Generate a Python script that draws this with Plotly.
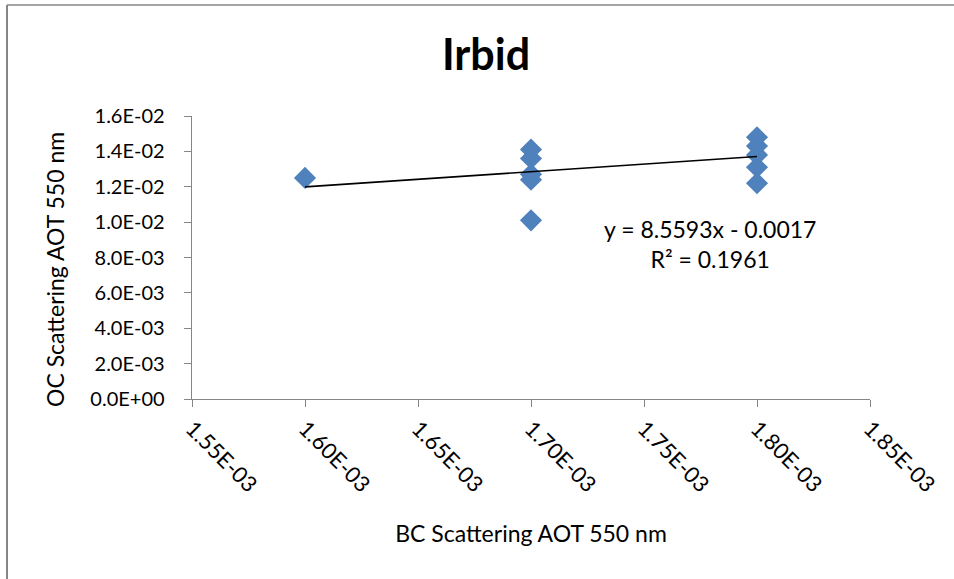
import plotly.graph_objects as go
import numpy as np

# data
bc_x = [1.60e-3, 1.70e-3, 1.70e-3, 1.70e-3, 1.70e-3, 1.70e-3,
        1.80e-3, 1.80e-3, 1.80e-3, 1.80e-3, 1.80e-3]
oc_y = [0.0125, 0.0141, 0.0136, 0.0127, 0.0124, 0.0101,
        0.0148, 0.0143, 0.0138, 0.0131, 0.0122]
trend_slope = 8.5593
trend_intercept = -0.0017
trend_text = "y = 8.5593x - 0.0017<br>R² = 0.1961"

y_ticks = [0.0, 0.002, 0.004, 0.006, 0.008, 0.010, 0.012, 0.014, 0.016]
y_ticklabels = ["0.0E+00", "2.0E-03", "4.0E-03", "6.0E-03", "8.0E-03",
                "1.0E-02", "1.2E-02", "1.4E-02", "1.6E-02"]
x_ticks = [1.55e-3, 1.60e-3, 1.65e-3, 1.70e-3, 1.75e-3, 1.80e-3, 1.85e-3]
x_ticklabels = ["1.55E-03", "1.60E-03", "1.65E-03", "1.70E-03",
                "1.75E-03", "1.80E-03", "1.85E-03"]

FONT = "Lato, 'Open Sans', sans-serif"
AXC = "#868686"
PAD = "\u00a0\u00a0\u00a0"

fig = go.Figure()
fig.add_trace(go.Scatter(
    x=bc_x, y=oc_y, mode="markers",
    marker=dict(symbol="diamond", size=17, color="#4F81BD"),
    showlegend=False, hoverinfo="x+y"))

tx = np.array([min(bc_x), max(bc_x)])
fig.add_trace(go.Scatter(
    x=tx, y=trend_slope * tx + trend_intercept, mode="lines",
    line=dict(color="black", width=1.6), showlegend=False, hoverinfo="skip"))

fig.add_annotation(x=0.0017792, y=0.00875, xref="x", yref="y",
                   text=trend_text, showarrow=False, align="center",
                   font=dict(family=FONT, size=23, color="black"))

# y axis title
fig.add_annotation(x=(55 - 192) / 678, y=(399 - 270) / 283,
                   xref="paper", yref="paper", xanchor="center",
                   yanchor="middle", textangle=-90, showarrow=False,
                   text="OC Scattering AOT 550 nm",
                   font=dict(family=FONT, size=23, color="black"))

fig.update_layout(
    width=954, height=579,
    margin=dict(l=192, r=84, t=116, b=180),
    paper_bgcolor="white", plot_bgcolor="white",
    font=dict(family=FONT, size=20, color="black"),
    title=dict(text="<b>Irbid</b>", x=(486) / 954, xanchor="center",
               y=1 - 55 / 579, yanchor="middle",
               font=dict(family=FONT, size=43, color="black")),
)

fig.update_xaxes(
    range=[1.55e-3, 1.85e-3], tickvals=x_ticks, ticktext=x_ticklabels,
    tickangle=45, ticks="outside", ticklen=7, tickcolor=AXC,
    showline=True, linecolor=AXC, linewidth=1, showgrid=False, zeroline=False,
    tickfont=dict(family=FONT, size=22),
    title=dict(text="BC Scattering AOT 550 nm", standoff=29,
               font=dict(family=FONT, size=23)))
fig.update_yaxes(
    range=[0, 0.016], tickvals=y_ticks,
    ticktext=[t + PAD for t in y_ticklabels],
    ticks="outside", ticklen=7, tickcolor=AXC,
    showline=True, linecolor=AXC, linewidth=1, showgrid=False, zeroline=False,
    tickfont=dict(family=FONT, size=20))

# outer chart border (left and top only visible)
fig.add_shape(type="line", xref="paper", yref="paper",
              x0=-185 / 678, x1=-185 / 678, y0=-1.0, y1=(399 - 5) / 283,
              line=dict(color=AXC, width=2))
fig.add_shape(type="line", xref="paper", yref="paper",
              x0=-185 / 678, x1=(954 - 192) / 678, y0=(399 - 5) / 283,
              y1=(399 - 5) / 283,
              line=dict(color=AXC, width=1.5))

fig.write_html("out.html")
